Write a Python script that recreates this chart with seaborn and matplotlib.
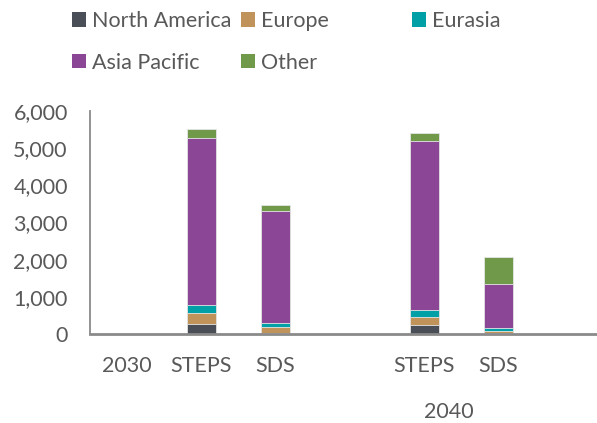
import numpy as np
import pandas as pd
import matplotlib
matplotlib.use("Agg")
import matplotlib.pyplot as plt
from matplotlib.patches import Patch
from matplotlib.transforms import blended_transform_factory
import seaborn as sns

# ---- data ----
slots = ["2030", "STEPS_2030", "SDS_2030", "gap", "STEPS_2040", "SDS_2040", "gap2"]
slot_labels = ["2030", "STEPS", "SDS", "", "STEPS", "SDS", ""]
bars = ["STEPS_2030", "SDS_2030", "STEPS_2040", "SDS_2040"]
regions = ["North America", "Europe", "Eurasia", "Asia Pacific", "Other"]
north_america = [275, 40, 250, 30]
europe = [280, 135, 200, 60]
eurasia = [215, 125, 205, 70]
asia_pacific = [4510, 3005, 4530, 1185]
other = [235, 155, 225, 735]
group_label = "2040"
colors = ["#4a4f57", "#c0935a", "#00a0a6", "#8b4796", "#71994a"]

series = [north_america, europe, eurasia, asia_pacific, other]
cum = np.cumsum(np.array(series), axis=0)

rows = []
for ri, r in enumerate(regions):
    for bi, b in enumerate(bars):
        rows.append({"slot": b, "region": r, "cum": cum[ri, bi]})
df = pd.DataFrame(rows)

sns.set_theme(style="white")
plt.rcParams["font.family"] = ["Lato", "DejaVu Sans"]
text_color = "#595959"
fs = 15.5

fig = plt.figure(figsize=(5.97, 4.23), dpi=100)
ax = fig.add_axes([90 / 597, 1 - 334 / 423, 1 - 90 / 597, (334 - 111) / 423])

# draw from top of stack down so lower segments overlay
for ri in range(len(regions) - 1, -1, -1):
    sub = df[df["region"] == regions[ri]]
    sns.barplot(data=sub, x="slot", y="cum", order=slots, color=colors[ri],
                width=0.39, saturation=1, edgecolor="#e6e6e6", linewidth=0.6,
                ax=ax, errorbar=None)

ax.set_xlim(-0.5, 6.33)
ax.set_ylim(0, 6000)
ax.set_yticks(range(0, 6001, 1000))
ax.set_yticklabels([f"{v:,}" for v in range(0, 6001, 1000)])
ax.set_xticks(range(len(slots)))
ax.set_xticklabels(slot_labels)
ax.set_xlabel("")
ax.set_ylabel("")
ax.tick_params(axis="y", length=0, pad=16, labelsize=fs, labelcolor=text_color)
ax.tick_params(axis="x", length=0, pad=16, labelsize=fs, labelcolor=text_color)

for s in ["top", "right"]:
    ax.spines[s].set_visible(False)
ax.spines["left"].set_color("#8a8a8a")
ax.spines["left"].set_linewidth(1.3)
ax.spines["bottom"].set_color("#8a8a8a")
ax.spines["bottom"].set_linewidth(2)
ax.spines["bottom"].set_zorder(5)

trans = blended_transform_factory(ax.transData, fig.transFigure)
ax.text(4.33, 1 - 412 / 423, group_label, transform=trans, ha="center",
        va="center", fontsize=fs, color=text_color)

# legend laid out in three columns
handles = [Patch(facecolor=c, edgecolor="none") for c in colors]
cols = [([0, 3], 58), ([1, 4], 227), ([2], 398)]
for idx, xpx in cols:
    leg = fig.legend([handles[i] for i in idx], [regions[i] for i in idx],
                     loc="upper left", bbox_to_anchor=(xpx / 597, 1 + 3 / 423),
                     frameon=False, fontsize=fs, handlelength=0.65,
                     handleheight=0.65, handletextpad=0.3, labelspacing=1.0,
                     borderpad=0.15)
    for t in leg.get_texts():
        t.set_color(text_color)

fig.savefig("out.png", dpi=100)
